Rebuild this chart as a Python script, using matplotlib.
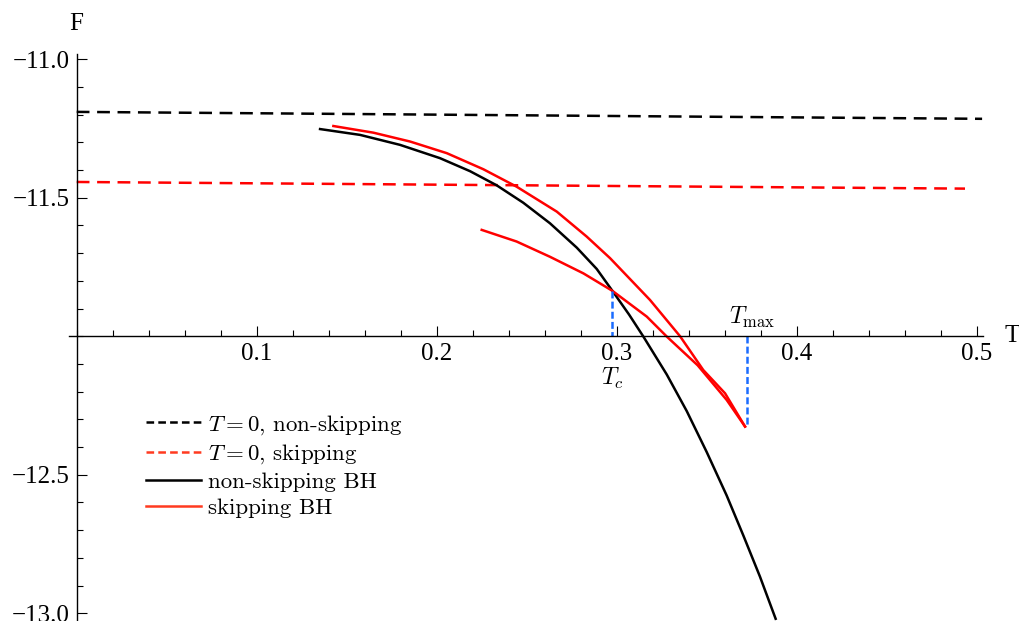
import matplotlib
matplotlib.use('Agg')
import matplotlib.pyplot as plt
from matplotlib.lines import Line2D
from matplotlib.ticker import MultipleLocator

plt.rcParams['mathtext.fontset'] = 'cm'
plt.rcParams['lines.scale_dashes'] = False

# T = 0 reference levels (straight dashed lines)
t_zero_ns = [0.0, 0.503]
f_zero_ns = [-11.19, -11.215]
t_zero_sk = [0.0, 0.4935]
f_zero_sk = [-11.443, -11.467]

# non-skipping black hole branch
t_ns = [0.1352, 0.1574, 0.1796, 0.2018, 0.2185, 0.2333, 0.2481, 0.2629, 0.2778, 0.2889,
        0.2976, 0.3069, 0.3148, 0.3278, 0.3389, 0.35, 0.3611, 0.3704, 0.3796, 0.3883]
f_ns = [-11.252, -11.273, -11.309, -11.357, -11.404, -11.455, -11.518, -11.592, -11.68, -11.757,
        -11.836, -11.922, -12.001, -12.138, -12.27, -12.418, -12.575, -12.72, -12.868, -13.02]

# skipping black hole: upper branch then lower branch meeting at T_max
t_sk_up = [0.1426, 0.1648, 0.1852, 0.2056, 0.2259, 0.2444, 0.2667, 0.2833, 0.2963,
           0.3185, 0.3352, 0.3481, 0.3602, 0.3713]
f_sk_up = [-11.241, -11.265, -11.297, -11.339, -11.397, -11.46, -11.55, -11.64, -11.718,
           -11.869, -12.0, -12.122, -12.206, -12.326]
t_sk_lo = [0.225, 0.2444, 0.2629, 0.2815, 0.2976, 0.3167, 0.3278, 0.345, 0.3611, 0.3713]
f_sk_lo = [-11.616, -11.658, -11.713, -11.773, -11.836, -11.929, -12.001, -12.105, -12.23, -12.326]

t_c = 0.2976
f_c = -11.836
t_max = 0.3724
f_max = -12.326
f_axis = -12.0

x_major = [0.1, 0.2, 0.3, 0.4, 0.5]
x_labels = ['0.1', '0.2', '0.3', '0.4', '0.5']
y_major = [-11.0, -11.5, -12.5, -13.0]
y_labels = ['\u221211.0', '\u221211.5', '\u221212.5', '\u221213.0']

fig = plt.figure(figsize=(10.2, 6.21), dpi=100)
ax = fig.add_axes([69/1020, 0, (983-69)/1020, (621-54)/621])
ax.set_xlim(-0.00428, 0.5035)
ax.set_ylim(-13.028, -10.981)

red = '#ff0000'
lw = 1.8
ax.plot(t_zero_ns, f_zero_ns, color='black', lw=lw, dashes=(9.2, 5.5))
ax.plot(t_zero_sk, f_zero_sk, color=red, lw=lw, dashes=(9.2, 5.5))
ax.plot(t_ns, f_ns, color='black', lw=lw)
ax.plot(t_sk_up, f_sk_up, color=red, lw=lw)
ax.plot(t_sk_lo, f_sk_lo, color=red, lw=lw)

blue = '#1a6cff'
ax.plot([t_c, t_c], [f_c, f_axis], color=blue, lw=lw, dashes=(5, 2.3))
ax.plot([t_max, t_max], [f_axis, f_max], color=blue, lw=lw, dashes=(5, 2.3))

# axes crossing at (0, -12), Mathematica style
for side in ['top', 'right']:
    ax.spines[side].set_visible(False)
ax.spines['left'].set_position(('data', 0))
ax.spines['bottom'].set_position(('data', f_axis))
ax.spines['left'].set_linewidth(1.0)
ax.spines['bottom'].set_linewidth(1.0)

ax.set_xticks(x_major, x_labels)
ax.set_yticks(y_major, y_labels)
ax.xaxis.set_minor_locator(MultipleLocator(0.02))
ax.yaxis.set_minor_locator(MultipleLocator(0.1))
ax.tick_params(which='both', direction='in', width=0.8)
ax.tick_params(which='major', length=7, labelsize=18, pad=5)
ax.tick_params(which='minor', length=4.2)
for lab in ax.get_xticklabels() + ax.get_yticklabels():
    lab.set_fontfamily('Liberation Serif')

ax.text(0, -10.872, 'F', fontsize=18, family='Liberation Serif', ha='center', va='center', clip_on=False)
ax.text(0.5196, f_axis, 'T', fontsize=18, family='Liberation Serif', ha='center', va='center', clip_on=False)
ax.text(t_c, -12.152, r'$T_c$', fontsize=17, ha='center', va='center')
ax.text(0.3752, -11.934, r'$T_{\rm max}$', fontsize=17, ha='center', va='center')

leg_red = '#ff3a20'
handles = [
    Line2D([], [], color='black', lw=lw, dashes=(5.5, 3)),
    Line2D([], [], color=leg_red, lw=lw, dashes=(5.5, 3)),
    Line2D([], [], color='black', lw=lw),
    Line2D([], [], color=leg_red, lw=lw),
]
labels = [r'$T=0$, non-skipping', r'$T=0$, skipping', 'non-skipping BH', 'skipping BH']
leg = ax.legend(handles, labels, loc='upper left', bbox_to_anchor=(146/1020, 1-413/621),
                bbox_transform=fig.transFigure, frameon=False, borderpad=0, borderaxespad=0,
                handlelength=2.4, handletextpad=0.3, labelspacing=0.25,
                prop={'family': 'cmr10', 'size': 16.5})

fig.savefig('out.png', dpi=100)
